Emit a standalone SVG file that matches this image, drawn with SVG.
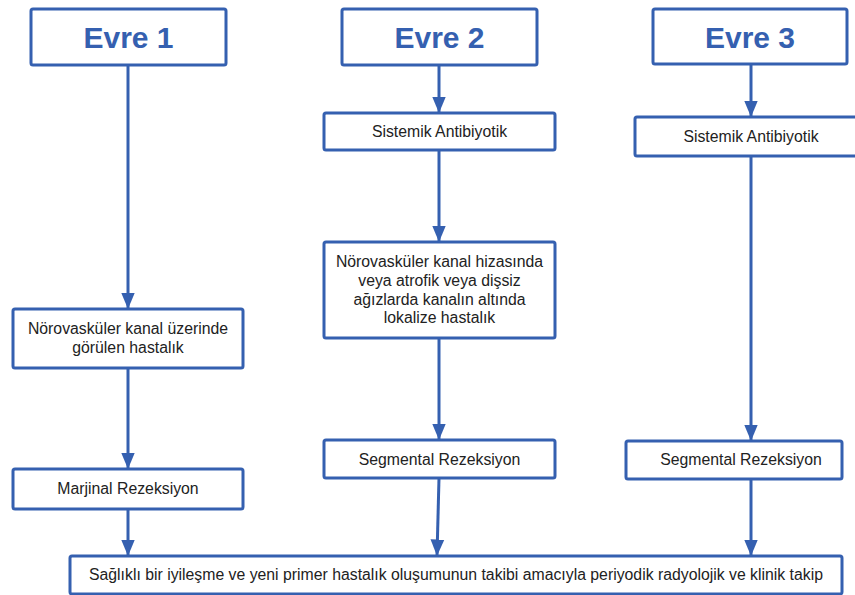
<svg xmlns="http://www.w3.org/2000/svg" width="855" height="595" viewBox="0 0 855 595">
<style>
.box{fill:#fff;stroke:#3560b0;stroke-width:3;}
.t{font-family:"Liberation Sans",Arial,sans-serif;font-size:15.8px;fill:#222;text-anchor:middle;}
.h{font-family:"Liberation Sans",Arial,sans-serif;font-size:30px;font-weight:bold;fill:#3560b0;text-anchor:middle;}
.c{stroke:#3560b0;stroke-width:3;fill:none;}
</style>
<defs>
<marker id="ah" markerWidth="6" markerHeight="5" refX="5.5" refY="2.5" orient="auto" markerUnits="strokeWidth">
<path d="M0,0.2 L5.5,2.5 L0,4.8 Z" fill="#3560b0"/>
</marker>
</defs>
<g id="connectors">
<line class="c" x1="128" y1="65" x2="128" y2="309" marker-end="url(#ah)"/>
<line class="c" x1="128" y1="368" x2="128" y2="469" marker-end="url(#ah)"/>
<line class="c" x1="128" y1="509" x2="128" y2="556" marker-end="url(#ah)"/>
<line class="c" x1="439" y1="65" x2="439" y2="113" marker-end="url(#ah)"/>
<line class="c" x1="439" y1="150" x2="439" y2="242" marker-end="url(#ah)"/>
<line class="c" x1="439" y1="338" x2="439" y2="440" marker-end="url(#ah)"/>
<line class="c" x1="439" y1="478" x2="437" y2="556" marker-end="url(#ah)"/>
<line class="c" x1="751" y1="64" x2="751" y2="117" marker-end="url(#ah)"/>
<line class="c" x1="751" y1="156" x2="751" y2="441" marker-end="url(#ah)"/>
<line class="c" x1="751" y1="479" x2="751" y2="556" marker-end="url(#ah)"/>
</g>
<g id="evre1">
<rect class="box" x="31" y="9" width="195" height="56" rx="2"/>
<text class="h" x="128.5" y="48">Evre 1</text>
</g>
<g id="evre2">
<rect class="box" x="342" y="9" width="195" height="56" rx="2"/>
<text class="h" x="439.5" y="48">Evre 2</text>
</g>
<g id="evre3">
<rect class="box" x="653" y="9" width="194" height="55" rx="2"/>
<text class="h" x="750" y="48">Evre 3</text>
</g>
<g id="antibiyotik2">
<rect class="box" x="324" y="113" width="231" height="37" rx="2"/>
<text class="t" x="439.5" y="137">Sistemik Antibiyotik</text>
</g>
<g id="antibiyotik3">
<rect class="box" x="635" y="117" width="225" height="39" rx="2"/>
<text class="t" x="751" y="142">Sistemik Antibiyotik</text>
</g>
<g id="hastalik1">
<rect class="box" x="13" y="309" width="230" height="59" rx="2"/>
<text class="t" x="128" y="334">Nörovasküler kanal üzerinde</text>
<text class="t" x="128" y="353">görülen hastalık</text>
</g>
<g id="hastalik2">
<rect class="box" x="324" y="242" width="231" height="96" rx="2"/>
<text class="t" x="439.5" y="267">Nörovasküler kanal hizasında</text>
<text class="t" x="439.5" y="286">veya atrofik veya dişsiz</text>
<text class="t" x="439.5" y="305">ağızlarda kanalın altında</text>
<text class="t" x="439.5" y="323">lokalize hastalık</text>
</g>
<g id="marjinal">
<rect class="box" x="13" y="469" width="230" height="40" rx="2"/>
<text class="t" x="128" y="494">Marjinal Rezeksiyon</text>
</g>
<g id="segmental2">
<rect class="box" x="324" y="440" width="231" height="38" rx="2"/>
<text class="t" x="439.5" y="465">Segmental Rezeksiyon</text>
</g>
<g id="segmental3">
<rect class="box" x="626" y="441" width="216" height="38" rx="2"/>
<text class="t" x="741" y="465">Segmental Rezeksiyon</text>
</g>
<g id="takip">
<rect class="box" x="70" y="556" width="772" height="38" rx="2"/>
<text class="t" x="456" y="580">Sağlıklı bir iyileşme ve yeni primer hastalık oluşumunun takibi amacıyla periyodik radyolojik ve klinik takip</text>
</g>
</svg>
